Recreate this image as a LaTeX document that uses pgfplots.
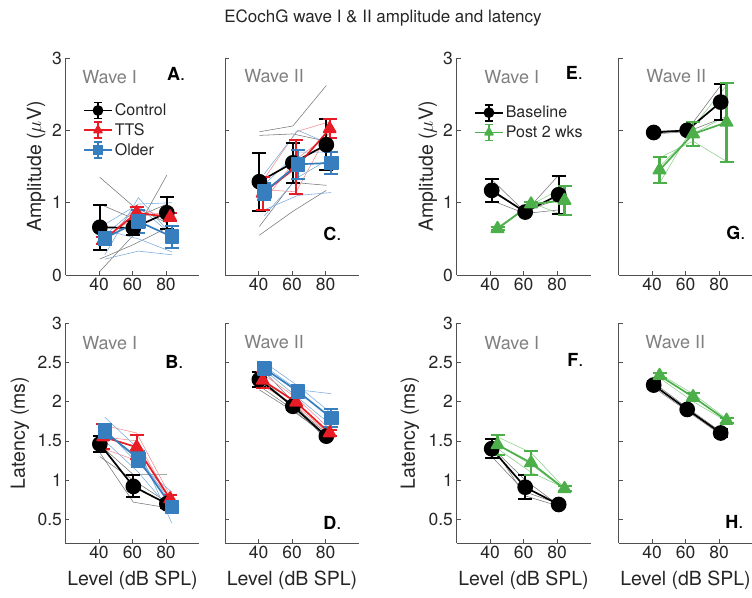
\documentclass[border=0pt]{standalone}
\usepackage{fontspec}
\setmainfont{TeX Gyre Heros}
\usepackage{pgfplots}
\pgfplotsset{compat=1.18}

\definecolor{txt}{RGB}{38,38,38}
\definecolor{axc}{RGB}{80,80,80}
\definecolor{wavegray}{RGB}{128,128,128}
\definecolor{cred}{RGB}{232,28,36}
\definecolor{cblue}{RGB}{55,126,190}
\definecolor{cgreen}{RGB}{77,175,74}
\definecolor{lgray}{RGB}{120,120,120}
\definecolor{lred}{RGB}{245,140,140}
\definecolor{lblue}{RGB}{120,170,220}
\definecolor{lgreen}{RGB}{140,205,140}

\newcommand{\tfont}{\fontsize{17.5}{20}\selectfont}
\newcommand{\lfont}{\fontsize{19.5}{22}\selectfont}
\newcommand{\wfont}{\fontsize{18}{20}\selectfont}

\pgfplotsset{
  every error bar/.append style={line width=2.2pt, solid},
  panel/.style={
    scale only axis, width=134pt,
    xmin=20, xmax=100, xtick={40,60,80},
    axis x line*=bottom, axis y line*=left,
    axis line style={draw=axc, line width=0.7pt},
    tick align=inside, major tick length=4pt,
    tick style={draw=axc, line width=0.7pt},
    ticklabel style={font=\tfont, text=txt},
    /pgf/number format/assume math mode=true,
    label style={font=\lfont, text=txt},
    ylabel style={at={(axis description cs:-0.22,0.5)}, anchor=center},
    xlabel style={at={(axis description cs:0.5,0)}, anchor=center, yshift=-37pt},
    clip=false,
  },
  top/.style={panel, height=217pt, ymin=0, ymax=3, ytick={0,1,2,3}},
  bot/.style={panel, height=220pt, ymin=0.2, ymax=3, ytick={0.5,1,1.5,2,2.5,3}},
  ind/.style={line width=0.55pt, mark=none, forget plot},
  main/.style={line width=1.7pt, line join=round, mark size=7pt, mark options={solid},
    error bars/.cd, y dir=both, y explicit,
    error bar style={line width=2.2pt},
    error mark options={rotate=90, mark size=7pt, line width=2pt},
    /pgfplots/.cd},
  ctl/.style={main, black, mark=*},
  tts/.style={main, cred, mark=triangle*},
  old/.style={main, cblue, mark=square*, mark size=6.5pt},
  post/.style={main, cgreen, mark=triangle*},
  errlegend/.style={legend image code/.code={
      \draw[##1, mark=none] (0pt,0pt) -- (28pt,0pt);
      \draw[##1, mark=none, line width=1.8pt] (14pt,-8pt) -- (14pt,8pt)
        (10pt,8pt) -- (18pt,8pt) (10pt,-8pt) -- (18pt,-8pt);
      \draw[##1, mark size=4.5pt] plot coordinates {(14pt,0pt)};
    },
    legend style={draw=none, fill=none, font=\fontsize{16}{18}\selectfont, text=txt,
      row sep=2pt, inner sep=0pt},
    legend cell align=left},
}

\begin{document}
\begin{tikzpicture}
\useasboundingbox (0pt,0pt) rectangle (752pt,597pt);
\node[font=\fontsize{17}{20}\selectfont, text=txt] at (383pt,579pt) {ECochG wave I \& II amplitude and latency};

% ---------- A: amplitude, wave I ----------
\begin{axis}[top, at={(65.5pt,322pt)}, ylabel={Amplitude ($\mu$V)}, errlegend,
  legend style={at={(rel axis cs:0.13,0.80)}, anchor=north west}]
\addplot[ind, lgray] coordinates {(40.5,1.35) (60.5,0.95) (80.5,0.72)};
\addplot[ind, lgray] coordinates {(40.5,0.05) (60.5,0.55) (80.5,1.38)};
\addplot[ind, lgray] coordinates {(40.5,0.98) (60.5,0.78) (80.5,0.98)};
\addplot[ind, lgray] coordinates {(40.5,0.22) (60.5,0.42) (80.5,0.65)};
\addplot[ind, lred] coordinates {(42.5,0.45) (62.5,0.93) (82.5,0.78)};
\addplot[ind, lred] coordinates {(42.5,0.52) (62.5,0.80) (82.5,0.88)};
\addplot[ind, lblue] coordinates {(43.5,0.28) (63.5,1.07) (83.5,0.55)};
\addplot[ind, lblue] coordinates {(43.5,0.62) (63.5,0.50) (83.5,0.32)};
\addplot[ind, lblue] coordinates {(43.5,0.22) (63.5,0.33) (83.5,0.28)};
\addplot[ind, lblue] coordinates {(43.5,0.70) (63.5,0.98) (83.5,1.00)};
\addplot[ind, lblue] coordinates {(43.5,0.55) (63.5,0.95) (83.5,0.55)};
\addplot[ctl] coordinates {(40.5,0.66) +- (0,0.31) (60.5,0.65) +- (0,0.10) (80.5,0.86) +- (0,0.22)};
\addplot[tts] coordinates {(42.5,0.48) +- (0,0.05) (62.5,0.86) +- (0,0.08) (82.5,0.80) +- (0,0.06)};
\addplot[old] coordinates {(43.5,0.51) +- (0,0.09) (63.5,0.74) +- (0,0.16) (83.5,0.53) +- (0,0.15)};
\legend{Control,TTS,Older}
\node[anchor=west, font=\wfont, text=wavegray] at (axis cs:28,2.74) {Wave I};
\node[anchor=east, font=\wfont, text=black] at (axis cs:93.5,2.78) {\textbf{A}.};
\end{axis}

% ---------- C: amplitude, wave II ----------
\begin{axis}[top, at={(225pt,322pt)}, yticklabels={}]
\addplot[ind, lgray] coordinates {(40.5,1.98) (60.5,2.06) (80.5,2.62)};
\addplot[ind, lgray] coordinates {(40.5,1.93) (60.5,1.95) (80.5,1.85)};
\addplot[ind, lgray] coordinates {(40.5,0.67) (60.5,1.28) (80.5,1.24)};
\addplot[ind, lgray] coordinates {(40.5,0.55) (60.5,0.88) (80.5,1.17)};
\addplot[ind, lred] coordinates {(42.5,1.30) (62.5,1.98) (82.5,2.12)};
\addplot[ind, lred] coordinates {(42.5,1.18) (62.5,1.15) (82.5,2.00)};
\addplot[ind, lred] coordinates {(42.5,1.00) (62.5,1.60) (82.5,1.95)};
\addplot[ind, lblue] coordinates {(43.5,0.82) (63.5,1.35) (83.5,1.62)};
\addplot[ind, lblue] coordinates {(43.5,1.40) (63.5,2.00) (83.5,1.80)};
\addplot[ind, lblue] coordinates {(43.5,0.90) (63.5,1.10) (83.5,1.14)};
\addplot[ind, lblue] coordinates {(43.5,1.25) (63.5,1.70) (83.5,1.70)};
\addplot[ctl] coordinates {(40.5,1.29) +- (0,0.40) (60.5,1.55) +- (0,0.28) (80.5,1.80) +- (0,0.35)};
\addplot[tts] coordinates {(42.5,1.13) +- (0,0.23) (62.5,1.49) +- (0,0.37) (82.5,2.02) +- (0,0.13)};
\addplot[old] coordinates {(43.5,1.15) +- (0,0.12) (63.5,1.53) +- (0,0.20) (83.5,1.55) +- (0,0.15)};
\node[anchor=west, font=\wfont, text=wavegray] at (axis cs:29.4,2.75) {Wave II};
\node[anchor=east, font=\wfont, text=black] at (axis cs:91.6,0.57) {\textbf{C}.};
\end{axis}

% ---------- E: amplitude, wave I (baseline / post) ----------
\begin{axis}[top, at={(456.5pt,322pt)}, ylabel={Amplitude ($\mu$V)}, errlegend,
  ylabel style={at={(axis description cs:-0.213,0.5)}},
  legend style={at={(rel axis cs:0.13,0.79)}, anchor=north west}]
\addplot[ind, lgray] coordinates {(41,1.32) (61,0.87) (81,1.38)};
\addplot[ind, lgray] coordinates {(41,1.03) (61,0.85) (81,0.90)};
\addplot[ind, lgray] coordinates {(41,1.15) (61,0.88) (81,1.05)};
\addplot[ind, lgreen] coordinates {(44.5,0.65) (64.5,0.97) (84.5,1.22)};
\addplot[ind, lgreen] coordinates {(44.5,0.63) (64.5,1.00) (84.5,0.82)};
\addplot[ind, lgreen] coordinates {(44.5,0.66) (64.5,0.98) (84.5,1.05)};
\addplot[ctl] coordinates {(41,1.17) +- (0,0.16) (61,0.87) +- (0,0.03) (81,1.11) +- (0,0.26)};
\addplot[post] coordinates {(44.5,0.64) +- (0,0.02) (64.5,0.98) +- (0,0.03) (84.5,1.03) +- (0,0.20)};
\legend{Baseline,Post 2 wks}
\node[anchor=west, font=\wfont, text=wavegray] at (axis cs:34.6,2.74) {Wave I};
\node[anchor=east, font=\wfont, text=black] at (axis cs:97.5,2.80) {\textbf{E}.};
\end{axis}

% ---------- G: amplitude, wave II (baseline / post) ----------
\begin{axis}[top, at={(618.5pt,322pt)}, yticklabels={}]
\addplot[ind, lgray] coordinates {(41,1.99) (61,2.00) (81,2.62)};
\addplot[ind, lgray] coordinates {(41,1.95) (61,1.98) (81,2.16)};
\addplot[ind, lgreen] coordinates {(44.5,1.27) (64.5,2.05) (84.5,2.62)};
\addplot[ind, lgreen] coordinates {(44.5,1.62) (64.5,1.85) (84.5,1.57)};
\addplot[ind, lgreen] coordinates {(44.5,1.50) (64.5,1.95) (84.5,2.20)};
\addplot[ctl] coordinates {(41,1.97) +- (0,0.02) (61,2.00) +- (0,0.03) (81,2.39) +- (0,0.25)};
\addplot[post] coordinates {(44.5,1.45) +- (0,0.18) (64.5,1.95) +- (0,0.16) (84.5,2.11) +- (0,0.55)};
\node[anchor=west, font=\wfont, text=wavegray] at (axis cs:34.6,2.75) {Wave II};
\node[anchor=east, font=\wfont, text=black] at (axis cs:97.9,0.58) {\textbf{G}.};
\end{axis}

% ---------- B: latency, wave I ----------
\begin{axis}[bot, at={(65.5pt,54pt)}, ylabel={Latency (ms)}, xlabel={Level (dB SPL)},
  ylabel style={at={(axis description cs:-0.34,0.5)}}]
\addplot[ind, lgray] coordinates {(40.5,1.35) (60.5,0.72) (80.5,0.65)};
\addplot[ind, lgray] coordinates {(40.5,1.30) (60.5,1.00) (80.5,0.72)};
\addplot[ind, lgray] coordinates {(40.5,1.45) (60.5,1.07) (80.5,1.07)};
\addplot[ind, lred] coordinates {(42.5,1.70) (62.5,1.60) (82.5,0.80)};
\addplot[ind, lred] coordinates {(42.5,1.55) (62.5,1.50) (82.5,0.75)};
\addplot[ind, lred] coordinates {(42.5,1.40) (62.5,1.25) (82.5,0.78)};
\addplot[ind, lblue] coordinates {(43.5,1.80) (63.5,1.40) (83.5,0.45)};
\addplot[ind, lblue] coordinates {(43.5,1.60) (63.5,1.30) (83.5,0.70)};
\addplot[ind, lblue] coordinates {(43.5,1.50) (63.5,1.10) (83.5,0.60)};
\addplot[ind, lblue] coordinates {(43.5,1.65) (63.5,1.20) (83.5,0.85)};
\addplot[ctl] coordinates {(40.5,1.46) +- (0,0.10) (60.5,0.92) +- (0,0.14) (80.5,0.70) +- (0,0.05)};
\addplot[tts] coordinates {(42.5,1.55) +- (0,0.16) (62.5,1.42) +- (0,0.15) (82.5,0.76) +- (0,0.05)};
\addplot[old] coordinates {(43.5,1.62) +- (0,0.10) (63.5,1.27) +- (0,0.10) (83.5,0.66) +- (0,0.06)};
\node[anchor=west, font=\wfont, text=wavegray] at (axis cs:28,2.75) {Wave I};
\node[anchor=east, font=\wfont, text=black] at (axis cs:92.5,2.50) {\textbf{B}.};
\end{axis}

% ---------- D: latency, wave II ----------
\begin{axis}[bot, at={(225pt,54pt)}, yticklabels={}, xlabel={Level (dB SPL)}]
\addplot[ind, lgray] coordinates {(40.5,2.45) (60.5,2.00) (80.5,1.50)};
\addplot[ind, lgray] coordinates {(40.5,2.20) (60.5,1.90) (80.5,1.55)};
\addplot[ind, lgray] coordinates {(40.5,2.15) (60.5,1.88) (80.5,1.58)};
\addplot[ind, lgray] coordinates {(40.5,2.30) (60.5,1.95) (80.5,1.60)};
\addplot[ind, lred] coordinates {(42.5,2.35) (62.5,2.05) (82.5,1.65)};
\addplot[ind, lred] coordinates {(42.5,2.20) (62.5,1.95) (82.5,1.58)};
\addplot[ind, lblue] coordinates {(43.5,2.45) (63.5,2.15) (83.5,2.10)};
\addplot[ind, lblue] coordinates {(43.5,2.40) (63.5,2.05) (83.5,1.70)};
\addplot[ind, lblue] coordinates {(43.5,2.50) (63.5,2.20) (83.5,1.85)};
\addplot[ctl] coordinates {(40.5,2.28) +- (0,0.10) (60.5,1.94) +- (0,0.05) (80.5,1.56) +- (0,0.03)};
\addplot[tts] coordinates {(42.5,2.27) +- (0,0.10) (62.5,1.99) +- (0,0.06) (82.5,1.60) +- (0,0.04)};
\addplot[old] coordinates {(43.5,2.42) +- (0,0.08) (63.5,2.13) +- (0,0.06) (83.5,1.79) +- (0,0.12)};
\node[anchor=west, font=\wfont, text=wavegray] at (axis cs:29.4,2.76) {Wave II};
\node[anchor=east, font=\wfont, text=black] at (axis cs:91.6,0.46) {\textbf{D}.};
\end{axis}

% ---------- F: latency, wave I (baseline / post) ----------
\begin{axis}[bot, at={(456.5pt,54pt)}, ylabel={Latency (ms)}, xlabel={Level (dB SPL)},
  ylabel style={at={(axis description cs:-0.347,0.5)}}]
\addplot[ind, lgray] coordinates {(41,1.42) (61,1.00) (81,0.68)};
\addplot[ind, lgray] coordinates {(41,1.30) (61,0.85) (81,0.70)};
\addplot[ind, lgray] coordinates {(41,1.45) (61,0.80) (81,0.67)};
\addplot[ind, lgreen] coordinates {(44.5,1.55) (64.5,1.35) (84.5,0.90)};
\addplot[ind, lgreen] coordinates {(44.5,1.40) (64.5,1.10) (84.5,0.90)};
\addplot[ind, lgreen] coordinates {(44.5,1.45) (64.5,1.20) (84.5,0.88)};
\addplot[ctl] coordinates {(41,1.40) +- (0,0.12) (61,0.91) +- (0,0.15) (81,0.69) +- (0,0.02)};
\addplot[post] coordinates {(44.5,1.45) +- (0,0.13) (64.5,1.22) +- (0,0.15) (84.5,0.89) +- (0,0.03)};
\node[anchor=west, font=\wfont, text=wavegray] at (axis cs:34.6,2.75) {Wave I};
\node[anchor=east, font=\wfont, text=black] at (axis cs:97.9,2.53) {\textbf{F}.};
\end{axis}

% ---------- H: latency, wave II (baseline / post) ----------
\begin{axis}[bot, at={(618.5pt,54pt)}, yticklabels={}, xlabel={Level (dB SPL)}]
\addplot[ind, lgray] coordinates {(41,2.24) (61,1.92) (81,1.62)};
\addplot[ind, lgray] coordinates {(41,2.18) (61,1.88) (81,1.58)};
\addplot[ind, lgreen] coordinates {(44.5,2.35) (64.5,2.10) (84.5,1.78)};
\addplot[ind, lgreen] coordinates {(44.5,2.30) (64.5,2.00) (84.5,1.75)};
\addplot[ctl] coordinates {(41,2.21) +- (0,0.05) (61,1.90) +- (0,0.03) (81,1.60) +- (0,0.05)};
\addplot[post] coordinates {(44.5,2.33) +- (0,0.03) (64.5,2.06) +- (0,0.05) (84.5,1.76) +- (0,0.03)};
\node[anchor=west, font=\wfont, text=wavegray] at (axis cs:34,2.76) {Wave II};
\node[anchor=east, font=\wfont, text=black] at (axis cs:96.7,0.47) {\textbf{H}.};
\end{axis}
\end{tikzpicture}
\end{document}
